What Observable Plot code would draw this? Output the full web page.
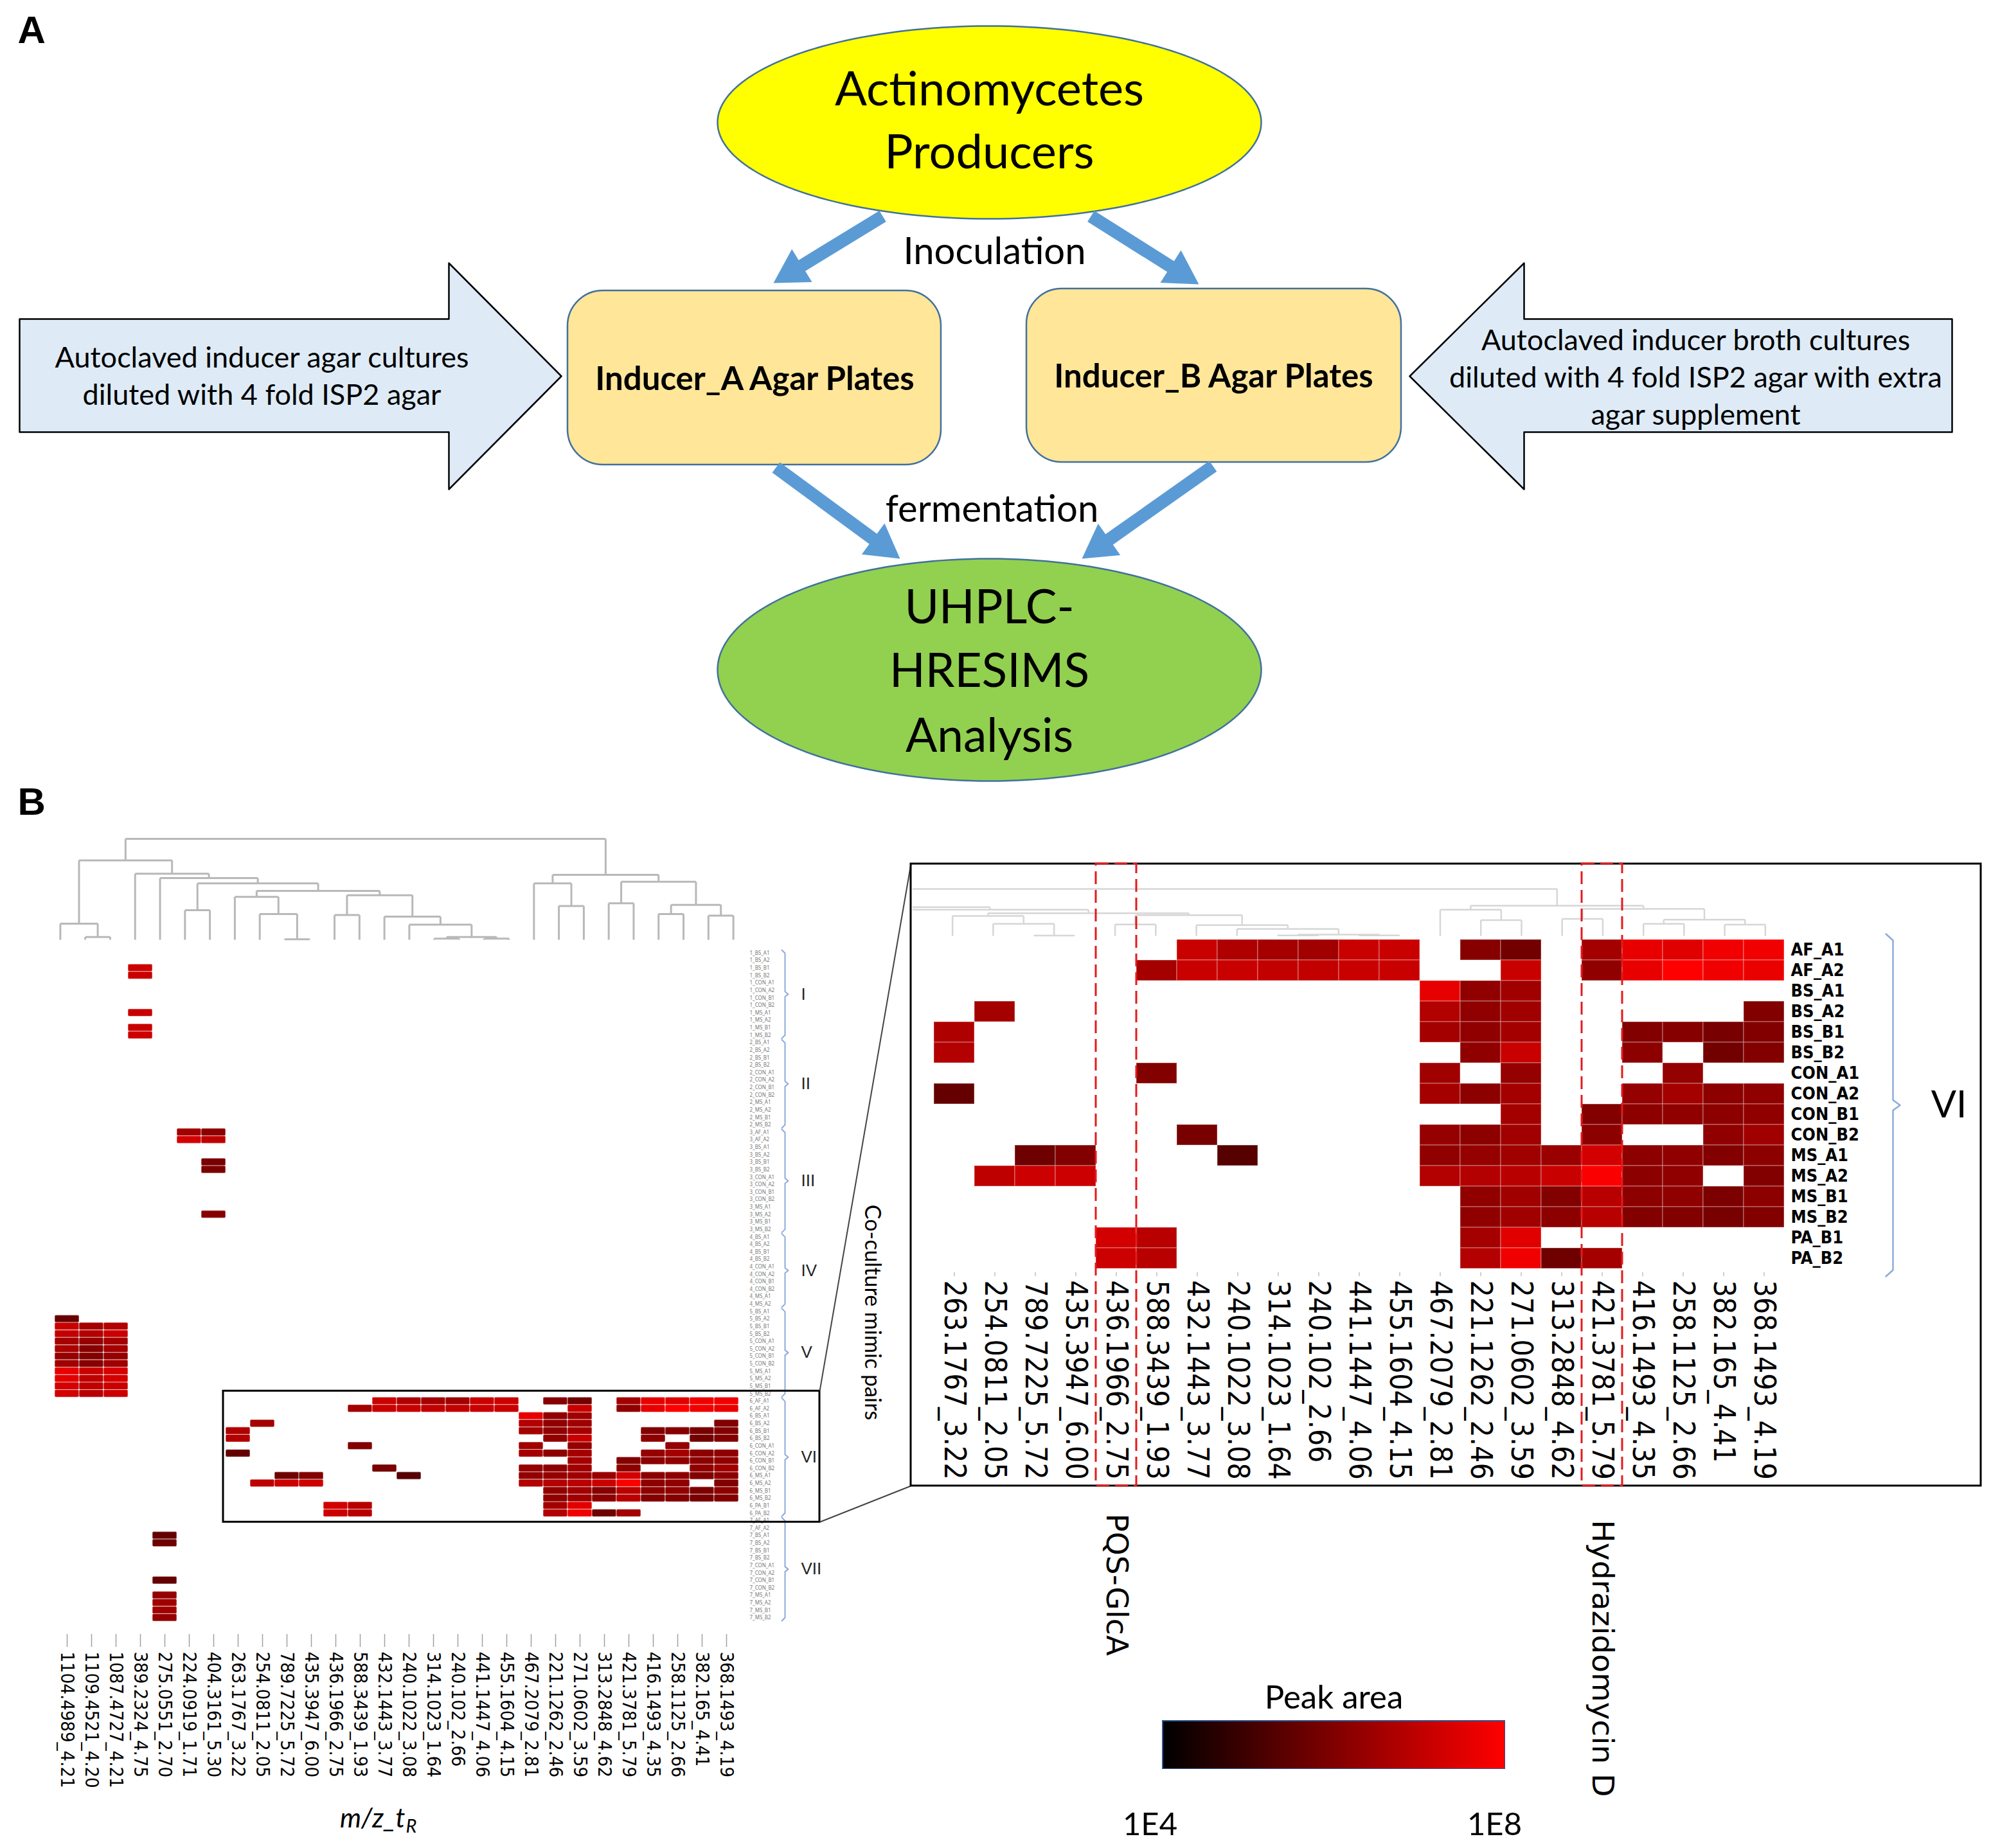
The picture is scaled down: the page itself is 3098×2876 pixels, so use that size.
<!DOCTYPE html>
<html><head><meta charset="utf-8">
<script src="https://cdn.jsdelivr.net/npm/d3@7"></script>
<script src="https://cdn.jsdelivr.net/npm/@observablehq/plot@0.6"></script>
<style>
html,body{margin:0;padding:0;background:#fff;overflow:hidden}
#fig{position:relative;width:3098px;height:2876px;background:#fff}
#fig > div{position:absolute;line-height:0}
#fig svg{display:block}
</style></head><body><div id="fig"></div>
<script>
// ---------------- DATA ----------------
const columns = ["1104.4989_4.21","1109.4521_4.20","1087.4727_4.21","389.2324_4.75","275.0551_2.70","224.0919_1.71","404.3161_5.30","263.1767_3.22","254.0811_2.05","789.7225_5.72","435.3947_6.00","436.1966_2.75","588.3439_1.93","432.1443_3.77","240.1022_3.08","314.1023_1.64","240.102_2.66","441.1447_4.06","455.1604_4.15","467.2079_2.81","221.1262_2.46","271.0602_3.59","313.2848_4.62","421.3781_5.79","416.1493_4.35","258.1125_2.66","382.165_4.41","368.1493_4.19"];
const sixColumns = columns.slice(7);
const annotations = [{column: "436.1966_2.75", name: "PQS-GlcA"}, {column: "421.3781_5.79", name: "Hydrazidomycin D"}];

const groupNames = ["I","II","III","IV","V","VI","VII"];
const pairSamples = ["BS_A1","BS_A2","BS_B1","BS_B2","CON_A1","CON_A2","CON_B1","CON_B2","MS_A1","MS_A2","MS_B1","MS_B2"];
const sixSamples = ["AF_A1","AF_A2","BS_A1","BS_A2","BS_B1","BS_B2","CON_A1","CON_A2","CON_B1","CON_B2","MS_A1","MS_A2","MS_B1","MS_B2","PA_B1","PA_B2"];
const groupSamples = [
  pairSamples,
  pairSamples,
  ["AF_A1","AF_A2", ...pairSamples],
  ["BS_A1","BS_A2","BS_B1","BS_B2","CON_A1","CON_A2","CON_B1","CON_B2","MS_A1","MS_A2"],
  pairSamples,
  sixSamples,
  ["AF_A1","AF_A2", ...pairSamples]
];

const _ = null;
// peak areas of group VI (rows: sixSamples, columns: sixColumns)
const sixValues = [
  [_,_,_,_,_,_,1.4e7,5.5e6,3.8e6,3.2e6,1.4e7,1.4e7,_,1.3e6,6.4e5,_,3.8e6,4.4e7,3.4e7,5.8e7,5.8e7],
  [_,_,_,_,_,3.8e6,1.4e7,1.4e7,1.1e7,1.1e7,1.4e7,1.4e7,_,_,1.4e7,_,1.9e6,4.4e7,1e8,5.8e7,4.9e7],
  [_,_,_,_,_,_,_,_,_,_,_,_,4e7,1.9e6,3.2e6,_,_,_,_,_,_],
  [_,3.8e6,_,_,_,_,_,_,_,_,_,_,6.5e6,1.9e6,3.2e6,_,_,_,_,_,1.1e6],
  [5.5e6,_,_,_,_,_,_,_,_,_,_,_,3.8e6,1.9e6,3.8e6,_,_,1.1e6,1.3e6,7.6e5,1.1e6],
  [6.5e6,_,_,_,_,_,_,_,_,_,_,_,_,1.9e6,1.4e7,_,_,1.6e6,_,6.4e5,1.1e6],
  [_,_,_,_,_,1.1e6,_,_,_,_,_,_,3.2e6,_,2.2e6,_,_,_,2.2e6,_,_],
  [3.7e5,_,_,_,_,_,_,_,_,_,_,_,3.8e6,1.6e6,3.8e6,_,_,2.2e6,3.8e6,1.6e6,1.9e6],
  [_,_,_,_,_,_,_,_,_,_,_,_,_,_,3.8e6,_,1.1e6,1.6e6,1.9e6,1.6e6,1.9e6],
  [_,_,_,_,_,_,7.6e5,_,_,_,_,_,2.2e6,1.6e6,3.2e6,_,1.6e6,_,_,1.9e6,3.2e6],
  [_,_,5.4e5,1.1e6,_,_,_,2.2e5,_,_,_,_,1.9e6,2.2e6,3.2e6,2.7e6,2e7,1.6e6,1.9e6,1.1e6,1.6e6],
  [_,9.5e6,1.6e7,1.6e7,_,_,_,_,_,_,_,_,6.5e6,6.5e6,7.8e6,1.4e7,8.5e7,1.6e6,1.9e6,_,1.1e6],
  [_,_,_,_,_,_,_,_,_,_,_,_,_,1.9e6,3.2e6,1.1e6,7.8e6,1.6e6,1.9e6,9e5,1.6e6],
  [_,_,_,_,_,_,_,_,_,_,_,_,_,1.9e6,3.2e6,1.6e6,7.8e6,1.1e6,1.1e6,7.6e5,1.1e6],
  [_,_,_,_,2e7,7.8e6,_,_,_,_,_,_,_,3.8e6,3.4e7,_,_,_,_,_,_],
  [_,_,_,_,1.6e7,7.8e6,_,_,_,_,_,_,_,6.5e6,5.8e7,5.4e5,3.8e6,_,_,_,_]
];
// peak areas in the other groups: [group, sample, column, value]
const otherCells = [
  ["I","BS_B1","389.2324_4.75",1.6e7],["I","BS_B2","389.2324_4.75",1.4e7],["I","MS_A1","389.2324_4.75",1.4e7],
  ["I","MS_B1","389.2324_4.75",1.4e7],["I","MS_B2","389.2324_4.75",1.6e7],
  ["III","AF_A1","224.0919_1.71",3.8e6],["III","AF_A2","224.0919_1.71",2e7],
  ["III","AF_A1","404.3161_5.30",1.6e6],["III","AF_A2","404.3161_5.30",9.5e6],["III","BS_B1","404.3161_5.30",7.6e5],
  ["III","BS_B2","404.3161_5.30",9e5],["III","MS_A2","404.3161_5.30",1.3e6],
  ["V","BS_A2","1104.4989_4.21",4.5e5],["V","BS_B1","1104.4989_4.21",1.4e7],["V","BS_B2","1104.4989_4.21",1.1e7],
  ["V","CON_A1","1104.4989_4.21",3.8e6],["V","CON_A2","1104.4989_4.21",4.6e6],["V","CON_B1","1104.4989_4.21",2.2e6],
  ["V","CON_B2","1104.4989_4.21",3.2e6],["V","MS_A1","1104.4989_4.21",4e7],["V","MS_A2","1104.4989_4.21",3.4e7],
  ["V","MS_B1","1104.4989_4.21",2e7],["V","MS_B2","1104.4989_4.21",2e7],
  ["V","BS_B1","1109.4521_4.20",3.8e6],["V","BS_B2","1109.4521_4.20",6.5e6],["V","CON_A1","1109.4521_4.20",2.2e6],
  ["V","CON_A2","1109.4521_4.20",1.3e6],["V","CON_B1","1109.4521_4.20",1.1e6],["V","CON_B2","1109.4521_4.20",1.3e6],
  ["V","MS_A1","1109.4521_4.20",1.4e7],["V","MS_A2","1109.4521_4.20",9.5e6],["V","MS_B1","1109.4521_4.20",9.5e6],
  ["V","MS_B2","1109.4521_4.20",7.8e6],
  ["V","BS_B1","1087.4727_4.21",6.5e6],["V","BS_B2","1087.4727_4.21",1.4e7],["V","CON_A1","1087.4727_4.21",3.8e6],
  ["V","CON_A2","1087.4727_4.21",3.8e6],["V","CON_B1","1087.4727_4.21",2.2e6],["V","CON_B2","1087.4727_4.21",3.2e6],
  ["V","MS_A1","1087.4727_4.21",2.4e7],["V","MS_A2","1087.4727_4.21",2e7],["V","MS_B1","1087.4727_4.21",1.4e7],
  ["V","MS_B2","1087.4727_4.21",1.6e7],
  ["VII","BS_A1","275.0551_2.70",3.7e5],["VII","BS_A2","275.0551_2.70",5.4e5],["VII","CON_B1","275.0551_2.70",3.7e5],
  ["VII","MS_A1","275.0551_2.70",2.2e6],["VII","MS_A2","275.0551_2.70",3.2e6],["VII","MS_B1","275.0551_2.70",3.2e6],
  ["VII","MS_B2","275.0551_2.70",2.2e6]
];
// column dendrogram: [left, right, merge height]; leaves are column indices
const dendrogram = [
  [[0, [1, 2, 5], 30],
   [3, [4, [[5, 6, 55], [[7, [8, [9, 10, 1], 48], 80], [[11, 12, 46], [13, [14, [[15, 16, 2], [17, 18, 2], 5], 28], 43], 83], 91], 105], 115], 123],
   148],
  [[19, [20, 21, 63], 105],
   [[22, 23, 68], [[24, 25, 48], [26, 27, 45], 65], 108],
   121],
  188];
const colorDomain = [1e4, 1e8];
const colorbarLabels = ["1E4", "1E8"];

// ---------------- HELPERS ----------------
const fig = document.getElementById("fig");
function place(node, left, top) {
  const d = document.createElement("div");
  d.style.left = left + "px"; d.style.top = top + "px";
  d.appendChild(node); fig.appendChild(d); return node;
}
const colorScale = {type: "log", domain: colorDomain, range: ["#000000", "#ff0000"], interpolate: "rgb"};
const condensed = "'DejaVu Sans Condensed', 'DejaVu Sans', sans-serif";
const narrow = "'Liberation Sans Narrow', 'Arial Narrow', 'DejaVu Sans Condensed', sans-serif";
const calibri = "Lato, 'Open Sans', sans-serif";
const hasAxis = typeof Plot.axisX === "function";

function dendroSegments(tree) {
  const segs = [];
  (function walk(n) {
    if (typeof n === "number") return {x: n, h: 0};
    const [a, b, h] = n;
    const A = walk(a), B = walk(b);
    segs.push({x1: A.x, y1: h, x2: B.x, y2: h});
    segs.push({x1: A.x, y1: A.h, x2: A.x, y2: h});
    segs.push({x1: B.x, y1: B.h, x2: B.x, y2: h});
    return {x: (A.x + B.x) / 2, h};
  })(tree);
  return segs;
}
const segs = dendroSegments(dendrogram);
const maxH = d3.max(segs, d => Math.max(d.y1, d.y2));

// ---------------- LEFT DENDROGRAM ----------------
const LX0 = 74, LY0 = 1477;
place(Plot.plot({
  width: 1086, height: 161, marginLeft: 0, marginRight: 0, marginTop: 2, marginBottom: 2,
  x: {domain: [-0.5, columns.length - 0.5], axis: null},
  y: {domain: [0, maxH], axis: null},
  style: {background: "transparent", overflow: "hidden"},
  marks: [Plot.link(segs, {x1: "x1", y1: "y1", x2: "x2", y2: "y2", stroke: "#b8b8b8", strokeWidth: 3})]
}), LX0, 1303);

// ---------------- LEFT HEATMAP ----------------
const leftRows = groupNames.flatMap((g, gi) => groupSamples[gi].map(s => ({id: `${g}|${s}`, group: g, sample: s, gi})));
const leftCells = [
  ...otherCells.map(([g, s, c, v]) => ({row: `${g}|${s}`, col: c, value: v})),
  ...sixSamples.flatMap((s, i) => sixColumns.map((c, j) => ({row: `VI|${s}`, col: c, value: sixValues[i][j]})))
].filter(d => d.value != null);

const leftHeat = Plot.plot({
  width: 1196, height: 1366, marginLeft: 0, marginRight: 110, marginTop: 0, marginBottom: 300,
  x: hasAxis ? {domain: columns, padding: 0} : {domain: columns, padding: 0, tickSize: 20, tickFormat: () => "", label: null},
  y: {domain: leftRows.map(d => d.id), padding: 0, insetBottom: 20, axis: null},
  color: colorScale,
  style: {background: "transparent", overflow: "visible", fontStretch: "condensed"},
  marks: [
    Plot.cell(leftCells, {x: "col", y: "row", fill: "value", stroke: "white", strokeOpacity: 0.45, strokeWidth: 1.3, rx: 2}),
    hasAxis ? Plot.axisX({tickSize: 20, stroke: "#a0a0a0", strokeWidth: 1.5, fill: "none", label: null}) : null,
    Plot.text(columns, {x: d => d, text: d => d, frameAnchor: "bottom", dy: 27, rotate: 90, textAnchor: "start", lineAnchor: "middle", fontSize: 29, fontFamily: condensed, fill: "black"}),
    Plot.text(leftRows, {y: "id", text: d => `${d.gi + 1}_${d.sample}`, frameAnchor: "right", dx: 6, textAnchor: "start", fontSize: 8, fill: "#777"})
  ]
});
place(leftHeat, LX0, LY0);

// ---------------- RIGHT DENDROGRAM ----------------
const RX0 = 1450, RY0 = 1461;
place(Plot.plot({
  width: 1358, height: 77, marginLeft: 30, marginRight: 0, marginTop: 2, marginBottom: 2,
  x: {domain: [7 - 0.5, columns.length - 0.5], axis: null},
  y: {domain: [0, maxH], axis: null},
  style: {background: "transparent", overflow: "hidden"},
  marks: [Plot.link(segs, {x1: "x1", y1: "y1", x2: "x2", y2: "y2", stroke: "#d6d6d6", strokeWidth: 2.5})]
}), 1420, 1381);

// ---------------- RIGHT HEATMAP ----------------
const rightCells = sixSamples.flatMap((s, i) => sixColumns.map((c, j) => ({sample: s, col: c, value: sixValues[i][j]}))).filter(d => d.value != null);
const rightHeat = Plot.plot({
  width: 1448, height: 859, marginLeft: 0, marginRight: 120, marginTop: 0, marginBottom: 340,
  x: hasAxis ? {domain: sixColumns, padding: 0} : {domain: sixColumns, padding: 0, tickSize: 6, tickFormat: () => "", label: null},
  y: {domain: sixSamples, padding: 0, insetBottom: 6, axis: null},
  color: colorScale,
  style: {background: "transparent", overflow: "visible", fontStretch: "condensed"},
  marks: [
    Plot.cell(rightCells, {x: "col", y: "sample", fill: "value", stroke: "white", strokeOpacity: 0.28, strokeWidth: 1.6}),
    hasAxis ? Plot.axisX({tickSize: 6, stroke: "#cfcfcf", strokeWidth: 2, fill: "none", label: null}) : null,
    Plot.text(sixColumns, {x: d => d, text: d => d, frameAnchor: "bottom", dy: 12, rotate: 90, textAnchor: "start", lineAnchor: "middle", fontSize: 46, fontFamily: condensed, fill: "black"}),
    Plot.text(sixSamples, {y: d => d, text: d => d, frameAnchor: "right", dx: 8, textAnchor: "start", fontSize: 27, fontWeight: "bold", fontFamily: narrow, fill: "black"})
  ]
});
place(rightHeat, RX0, RY0);

// ---------------- COLORBAR ----------------
const CBX = 1808, CBY = 2677;
const steps = d3.range(256).map(i => ({x1: 10 ** (4 + 4 * i / 256), x2: 10 ** (4 + 4 * (i + 1) / 256)}));
const colorbar = Plot.plot({
  width: 534, height: 76, margin: 0,
  x: {type: "log", domain: colorDomain, axis: null},
  color: colorScale,
  style: {background: "transparent"},
  marks: [
    Plot.rect(steps, {x1: "x1", x2: "x2", fill: d => Math.sqrt(d.x1 * d.x2), shapeRendering: "crispEdges"}),
    Plot.frame({stroke: "#2f528f", strokeWidth: 3})
  ]
});
place(colorbar, CBX, CBY);

// ---------------- OVERLAY (diagram, annotations) ----------------
const lx = leftHeat.scale("x"), ly = leftHeat.scale("y");
const rx = rightHeat.scale("x"), ry = rightHeat.scale("y");
const cbx = colorbar.scale("x");

const ellipse = (cx, cy, ex, ey) => d3.range(0, 361, 2).map(a => [cx + ex * Math.cos(a * Math.PI / 180), cy + ey * Math.sin(a * Math.PI / 180)]);
const P = {x: d => d[0], y: d => d[1]};
function blueArrow(id, x1, y1, x2, y2) {
  const L = Math.hypot(x2 - x1, y2 - y1), ux = (x2 - x1) / L, uy = (y2 - y1) / L;
  const hl = 52, hw = 30, bx = x2 - ux * hl, by = y2 - uy * hl;
  return {shaft: {x1, y1, x2: bx + ux * 3, y2: by + uy * 3},
          head: [[x2, y2], [bx - uy * hw, by + ux * hw], [bx + uy * hw, by - ux * hw], [x2, y2]].map(p => ({id, x: p[0], y: p[1]}))};
}
const arrows = [blueArrow(1, 1373, 336, 1203, 440), blueArrow(2, 1697, 336, 1865, 442), blueArrow(3, 1207, 727, 1400, 869), blueArrow(4, 1887, 725, 1683, 869)];
const blockLeft = [[30,496],[698,496],[698,409],[873,585],[698,761],[698,672],[30,672],[30,496]];
const blockRight = [[3037,496],[2371,496],[2371,409],[2193,585],[2371,761],[2371,672],[3037,672],[3037,496]];

// group brackets on the left heatmap
const lbw = ly.bandwidth;
const brackets = [];
const groupLabels = [];
groupNames.forEach((g, gi) => {
  const rows = groupSamples[gi];
  const top = LY0 + ly.apply(`${g}|${rows[0]}`) + 1;
  const bot = LY0 + ly.apply(`${g}|${rows[rows.length - 1]}`) + lbw - 1;
  const mid = (top + bot) / 2, bx = 1221;
  [[bx - 5, top], [bx, top + 5], [bx, mid - 4], [bx + 5, mid], [bx, mid + 4], [bx, bot - 5], [bx - 5, bot]].forEach(p => brackets.push({g, x: p[0], y: p[1]}));
  groupLabels.push({g, x: 1246, y: mid});
});
// right VI bracket
const rbw = ry.bandwidth;
const rTop = RY0 + ry.apply(sixSamples[0]) - 9, rBot = RY0 + ry.apply(sixSamples[sixSamples.length - 1]) + rbw + 12, rMid = (rTop + rBot) / 2;
const rBracket = [[2934, rTop], [2945, rTop + 10], [2945, rMid - 8], [2956, rMid], [2945, rMid + 8], [2945, rBot - 10], [2934, rBot]];

// zoom box on left + frame on right
const boxX1 = LX0 + lx.apply(columns[7]) - 4, boxX2 = 1275;
const boxY1 = LY0 + ly.apply("VI|" + sixSamples[0]) - 10, boxY2 = LY0 + ly.apply("VI|" + sixSamples[15]) + lbw + 8;
const frame = {x1: 1417, x2: 3082, y1: 1344, y2: 2312};
const rbwX = rx.bandwidth;
const dashed = annotations.map(a => ({name: a.name, x1: RX0 + rx.apply(a.column), x2: RX0 + rx.apply(a.column) + rbwX, cx: RX0 + rx.apply(a.column) + rbwX / 2}));

const overlay = Plot.plot({
  width: 3098, height: 2876, margin: 0,
  x: {type: "identity", axis: null}, y: {type: "identity", axis: null},
  style: {background: "transparent", overflow: "visible"},
  marks: [
    // ----- panel A -----
    Plot.line(blockLeft, {...P, fill: "#deebf7", stroke: "#000", strokeWidth: 2.5}),
    Plot.line(blockRight, {...P, fill: "#deebf7", stroke: "#000", strokeWidth: 2.5}),
    Plot.line(ellipse(1539, 190, 423, 150), {...P, fill: "#ffff00", stroke: "#41719c", strokeWidth: 2.5}),
    Plot.line(ellipse(1539, 1042, 423, 173), {...P, fill: "#92d050", stroke: "#41719c", strokeWidth: 2.5}),
    Plot.rect([{x1: 883, x2: 1464, y1: 452, y2: 723}, {x1: 1597, x2: 2180, y1: 449, y2: 719}], {x1: "x1", x2: "x2", y1: "y1", y2: "y2", rx: 55, fill: "#ffe699", stroke: "#41719c", strokeWidth: 2.5}),
    Plot.link(arrows.map(a => a.shaft), {x1: "x1", y1: "y1", x2: "x2", y2: "y2", stroke: "#5b9bd5", strokeWidth: 20}),
    Plot.line(arrows.flatMap(a => a.head), {x: "x", y: "y", z: "id", fill: "#5b9bd5", stroke: "none"}),
    Plot.text(["Actinomycetes", "Producers"], {x: 1539, y: (d, i) => [140, 238][i], text: d => d, fontSize: 74, fontFamily: calibri, fill: "black"}),
    Plot.text(["UHPLC-", "HRESIMS", "Analysis"], {x: 1539, y: (d, i) => [946, 1045, 1146][i], text: d => d, fontSize: 73, fontFamily: calibri, fill: "black"}),
    Plot.text(["Inoculation", "fermentation"], {x: (d, i) => [1547, 1543][i], y: (d, i) => [392, 793][i], text: d => d, fontSize: 58, fontFamily: calibri, fill: "black"}),
    Plot.text(["Inducer_A Agar Plates", "Inducer_B Agar Plates"], {x: (d, i) => [1174, 1888][i], y: (d, i) => [590, 586][i], text: d => d, fontSize: 51, fontWeight: "bold", fontFamily: calibri, fill: "black"}),
    Plot.text(["Autoclaved inducer agar cultures", "diluted with 4 fold ISP2 agar"], {x: 407, y: (d, i) => [557, 615][i], text: d => d, fontSize: 45, fontFamily: calibri, fill: "black"}),
    Plot.text(["Autoclaved inducer broth cultures", "diluted with 4 fold ISP2 agar with extra", "agar supplement"], {x: 2638, y: (d, i) => [530, 588, 646][i], text: d => d, fontSize: 45, fontFamily: calibri, fill: "black"}),
    Plot.text(["A", "B"], {x: 27, y: (d, i) => [47, 1248][i], text: d => d, textAnchor: "start", fontSize: 60, fontWeight: "bold", fontFamily: "'Liberation Sans', Arial, sans-serif", fill: "black"}),
    // ----- panel B annotations -----
    Plot.line(brackets, {x: "x", y: "y", z: "g", stroke: "#8eaadb", strokeWidth: 2}),
    Plot.text(groupLabels, {x: "x", y: "y", text: "g", textAnchor: "start", fontSize: 26, fontFamily: "'Liberation Sans', Arial, sans-serif", fill: "#222"}),
    Plot.line(rBracket, {...P, stroke: "#8eaadb", strokeWidth: 2.5}),
    Plot.text(["VI"], {x: 3032, y: rMid, text: d => d, fontSize: 58, fontFamily: calibri, fill: "black"}),
    Plot.rect([{x1: boxX1, x2: boxX2, y1: boxY1, y2: boxY2}], {x1: "x1", x2: "x2", y1: "y1", y2: "y2", fill: "none", stroke: "black", strokeWidth: 3}),
    Plot.link([{x1: boxX2, y1: boxY1, x2: frame.x1, y2: frame.y1}, {x1: boxX2, y1: boxY2, x2: frame.x1, y2: frame.y2}], {x1: "x1", y1: "y1", x2: "x2", y2: "y2", stroke: "#444", strokeWidth: 2}),
    Plot.rect([frame], {x1: "x1", x2: "x2", y1: "y1", y2: "y2", fill: "none", stroke: "black", strokeWidth: 3}),
    Plot.rect(dashed, {x1: "x1", x2: "x2", y1: frame.y1, y2: frame.y2, fill: "none", stroke: "#e31a1c", strokeWidth: 3, strokeDasharray: "20,9"}),
    Plot.text(dashed, {x: "cx", y: (d, i) => [2355, 2365][i], text: "name", rotate: 90, textAnchor: "start", lineAnchor: "middle", fontSize: 47, fontFamily: "'DejaVu Sans', sans-serif", fill: "black"}),
    Plot.text(["Co-culture mimic pairs"], {x: 1356, y: 2042, text: d => d, rotate: 90, fontSize: 34, fontFamily: calibri, fill: "black"}),
    Plot.text(["m/z_t"], {x: 630, y: 2830, text: d => d, textAnchor: "end", fontSize: 42, fontStyle: "italic", fontFamily: calibri, fill: "black"}),
    Plot.text(["R"], {x: 631, y: 2842, text: d => d, textAnchor: "start", fontSize: 29, fontStyle: "italic", fontFamily: calibri, fill: "black"}),
    Plot.text(["Peak area"], {x: CBX + 267, y: 2642, text: d => d, fontSize: 51, fontFamily: calibri, fill: "black"}),
    Plot.text(colorbarLabels, {x: (d, i) => CBX + cbx.apply(colorDomain[i]) + [-19, -17][i], y: 2840, text: d => d, fontSize: 49, fontFamily: calibri, fill: "black"})
  ]
});
const od = place(overlay, 0, 0);
od.parentNode.style.pointerEvents = "none";
</script></body></html>
